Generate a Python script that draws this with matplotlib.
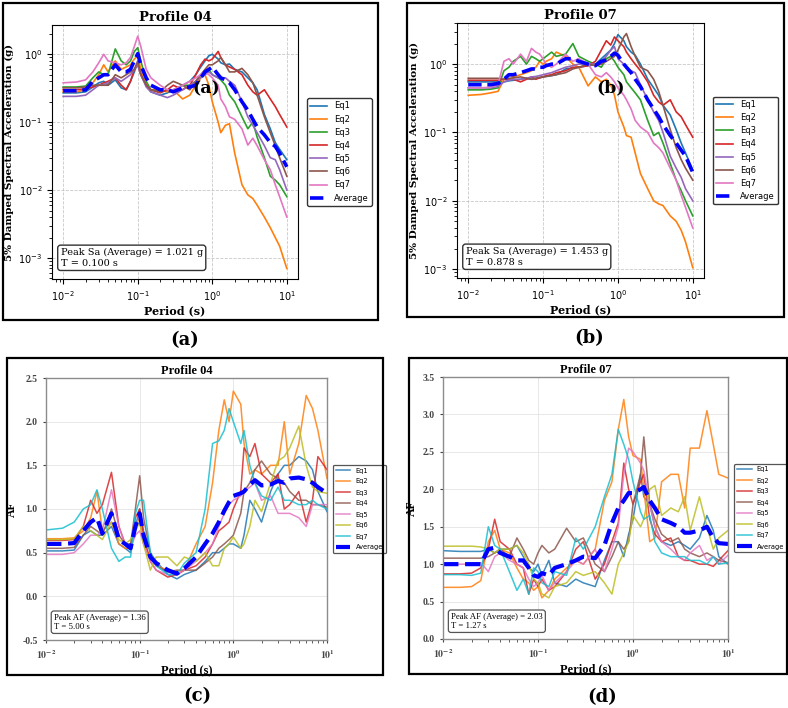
import matplotlib
matplotlib.use("Agg")
import matplotlib.pyplot as plt
from matplotlib.patches import Rectangle

FIG_W, FIG_H = 788, 708

PERIODS = [0.01, 0.015, 0.02, 0.025, 0.03, 0.035, 0.04, 0.05, 0.06, 0.07,
           0.08, 0.09, 0.1, 0.11, 0.13, 0.15, 0.2, 0.25, 0.3, 0.4,
           0.5, 0.6, 0.7, 0.8, 0.9, 1.0, 1.2, 1.3, 1.5, 1.7,
           2.0, 2.5, 3.0, 3.5, 4.0, 5.0, 6.0, 7.0, 8.0, 10.0]

EQ_LABELS = ["Eq1", "Eq2", "Eq3", "Eq4", "Eq5", "Eq6", "Eq7"]
DECADE_TICKS = [0.01, 0.1, 1, 10]
DECADE_LABELS = [r"$\mathbf{10^{-2}}$", r"$\mathbf{10^{-1}}$",
                 r"$\mathbf{10^{0}}$", r"$\mathbf{10^{1}}$"]
AF04_TICKS = [-0.5, 0.0, 0.5, 1.0, 1.5, 2.0, 2.5]
AF07_TICKS = [0.0, 0.5, 1.0, 1.5, 2.0, 2.5, 3.0, 3.5]

# (a) spectral acceleration, profile 04
SA04_EQ1 = [0.27, 0.27, 0.28, 0.33, 0.38, 0.40, 0.35, 0.42, 0.32, 0.30,
            0.40, 0.55, 0.75, 0.55, 0.35, 0.28, 0.25, 0.27, 0.30, 0.35,
            0.40, 0.50, 0.65, 0.80, 0.95, 1.00, 0.85, 0.75, 0.70, 0.72,
            0.60, 0.55, 0.45, 0.38, 0.30, 0.13, 0.08, 0.05, 0.04, 0.028]
SA04_EQ2 = [0.28, 0.28, 0.30, 0.38, 0.50, 0.70, 0.55, 0.80, 0.60, 0.65,
            0.70, 0.85, 0.95, 0.60, 0.35, 0.30, 0.30, 0.28, 0.30, 0.22,
            0.25, 0.35, 0.45, 0.50, 0.35, 0.20, 0.10, 0.07, 0.09, 0.095,
            0.035, 0.012, 0.0085, 0.0075, 0.006, 0.004, 0.0028, 0.002, 0.0015, 0.0007]
SA04_EQ3 = [0.33, 0.33, 0.34, 0.45, 0.55, 0.50, 0.50, 1.20, 0.80, 0.70,
            0.80, 1.10, 1.25, 0.80, 0.40, 0.30, 0.28, 0.30, 0.28, 0.35,
            0.35, 0.40, 0.50, 0.50, 0.60, 0.50, 0.45, 0.42, 0.35, 0.25,
            0.20, 0.12, 0.08, 0.10, 0.06, 0.03, 0.016, 0.014, 0.012, 0.008]
SA04_EQ4 = [0.30, 0.30, 0.31, 0.33, 0.35, 0.38, 0.40, 0.45, 0.35, 0.30,
            0.40, 0.60, 0.70, 0.50, 0.35, 0.30, 0.27, 0.30, 0.35, 0.30,
            0.35, 0.50, 0.70, 0.85, 0.80, 0.85, 1.10, 0.90, 0.70, 0.65,
            0.60, 0.50, 0.35, 0.28, 0.25, 0.30, 0.22, 0.17, 0.13, 0.085]
SA04_EQ5 = [0.24, 0.24, 0.25, 0.30, 0.35, 0.36, 0.38, 0.45, 0.40, 0.45,
            0.50, 0.60, 0.70, 0.50, 0.33, 0.28, 0.25, 0.23, 0.25, 0.30,
            0.35, 0.40, 0.45, 0.50, 0.55, 0.50, 0.45, 0.45, 0.45, 0.40,
            0.35, 0.20, 0.12, 0.09, 0.07, 0.045, 0.03, 0.028, 0.02, 0.01]
SA04_EQ6 = [0.32, 0.32, 0.33, 0.35, 0.35, 0.35, 0.35, 0.50, 0.45, 0.50,
            0.55, 0.60, 0.80, 0.50, 0.35, 0.30, 0.28, 0.35, 0.40, 0.35,
            0.30, 0.40, 0.50, 0.60, 0.70, 0.70, 0.80, 0.90, 0.70, 0.55,
            0.55, 0.62, 0.50, 0.38, 0.25, 0.12, 0.07, 0.045, 0.03, 0.016]
SA04_EQ7 = [0.38, 0.39, 0.42, 0.55, 0.75, 1.00, 0.80, 0.75, 0.70, 0.75,
            0.90, 1.30, 1.85, 1.30, 0.60, 0.45, 0.35, 0.30, 0.30, 0.35,
            0.40, 0.45, 0.50, 0.55, 0.50, 0.45, 0.35, 0.22, 0.17, 0.12,
            0.11, 0.08, 0.046, 0.058, 0.045, 0.028, 0.02, 0.012, 0.008, 0.004]
SA04_AVG = [0.29, 0.29, 0.30, 0.40, 0.45, 0.50, 0.50, 0.70, 0.55, 0.55,
            0.60, 0.80, 1.02, 0.70, 0.45, 0.35, 0.30, 0.30, 0.28, 0.32,
            0.33, 0.35, 0.45, 0.55, 0.60, 0.65, 0.50, 0.45, 0.42, 0.38,
            0.30, 0.20, 0.15, 0.11, 0.085, 0.065, 0.05, 0.044, 0.035, 0.022]

# (b) spectral acceleration, profile 07
SA07_EQ1 = [0.55, 0.55, 0.55, 0.55, 0.55, 0.57, 0.58, 0.60, 0.62, 0.60,
            0.62, 0.63, 0.65, 0.66, 0.68, 0.70, 0.85, 0.88, 0.90, 0.95,
            1.00, 1.20, 1.40, 1.60, 2.00, 2.70, 2.20, 1.80, 1.50, 1.35,
            1.00, 0.60, 0.45, 0.35, 0.25, 0.18, 0.11, 0.07, 0.05, 0.028]
SA07_EQ2 = [0.35, 0.36, 0.38, 0.40, 0.60, 0.70, 0.65, 0.70, 0.75, 0.80,
            0.90, 1.10, 1.00, 1.10, 1.20, 1.50, 1.30, 1.00, 0.90, 0.48,
            0.65, 0.55, 0.60, 0.50, 0.35, 0.20, 0.12, 0.09, 0.085, 0.05,
            0.025, 0.015, 0.010, 0.009, 0.0085, 0.006, 0.005, 0.0037, 0.0025, 0.00105]
SA07_EQ3 = [0.42, 0.42, 0.43, 0.45, 0.80, 0.90, 1.10, 1.30, 1.00, 1.30,
            1.20, 1.10, 1.20, 1.30, 1.50, 1.30, 1.40, 2.00, 1.30, 1.10,
            1.00, 0.90, 1.20, 1.30, 1.10, 0.90, 0.70, 0.55, 0.45, 0.38,
            0.30, 0.15, 0.09, 0.10, 0.07, 0.035, 0.02, 0.014, 0.01, 0.006]
SA07_EQ4 = [0.58, 0.58, 0.58, 0.58, 0.60, 0.60, 0.60, 0.55, 0.60, 0.65,
            0.60, 0.63, 0.65, 0.68, 0.70, 0.75, 0.80, 0.90, 0.90, 0.95,
            1.10, 1.60, 2.20, 1.90, 2.50, 2.20, 1.80, 1.50, 1.20, 1.00,
            0.80, 0.55, 0.35, 0.28, 0.25, 0.30, 0.20, 0.17, 0.13, 0.085]
SA07_EQ5 = [0.45, 0.45, 0.45, 0.47, 0.55, 0.58, 0.60, 0.60, 0.62, 0.65,
            0.66, 0.68, 0.70, 0.72, 0.75, 0.80, 0.90, 0.95, 1.00, 1.00,
            1.00, 1.10, 1.30, 1.60, 1.80, 1.20, 1.00, 0.90, 0.80, 0.75,
            0.50, 0.30, 0.20, 0.15, 0.10, 0.045, 0.03, 0.022, 0.015, 0.01]
SA07_EQ6 = [0.62, 0.62, 0.62, 0.62, 0.60, 0.62, 0.63, 0.65, 0.62, 0.60,
            0.62, 0.64, 0.65, 0.66, 0.68, 0.70, 0.75, 0.85, 0.90, 1.00,
            0.95, 1.00, 1.10, 1.20, 1.30, 1.60, 2.50, 2.80, 1.80, 1.30,
            0.90, 0.80, 0.60, 0.40, 0.25, 0.11, 0.06, 0.04, 0.03, 0.02]
SA07_EQ7 = [0.45, 0.45, 0.46, 0.50, 1.10, 1.20, 1.00, 1.40, 1.10, 1.70,
            1.50, 1.40, 1.20, 1.00, 0.90, 1.00, 1.40, 1.10, 1.20, 1.00,
            0.70, 0.65, 0.75, 0.65, 0.55, 0.45, 0.35, 0.30, 0.22, 0.15,
            0.12, 0.10, 0.07, 0.06, 0.05, 0.03, 0.02, 0.012, 0.008, 0.004]
SA07_AVG = [0.50, 0.50, 0.50, 0.52, 0.60, 0.70, 0.70, 0.75, 0.80, 0.85,
            0.85, 0.90, 0.90, 0.95, 1.00, 1.00, 1.20, 1.20, 1.10, 1.00,
            0.95, 1.10, 1.15, 1.30, 1.45, 1.35, 1.00, 0.90, 0.75, 0.60,
            0.47, 0.30, 0.22, 0.17, 0.13, 0.09, 0.07, 0.055, 0.045, 0.026]

# (c) amplification factor, profile 04
AF04_EQ1 = [0.52, 0.52, 0.53, 0.70, 0.75, 0.70, 0.70, 0.80, 0.60, 0.55,
            0.50, 0.80, 1.00, 0.75, 0.50, 0.40, 0.25, 0.20, 0.25, 0.30,
            0.40, 0.50, 0.50, 0.55, 0.60, 0.60, 0.55, 0.70, 1.10, 1.00,
            0.85, 1.20, 1.40, 1.50, 1.50, 1.60, 1.55, 1.45, 1.20, 0.97]
AF04_EQ2 = [0.66, 0.66, 0.67, 0.75, 0.90, 1.20, 0.75, 0.85, 0.60, 0.55,
            0.55, 0.80, 0.90, 0.60, 0.45, 0.35, 0.30, 0.25, 0.30, 0.60,
            0.80, 1.30, 1.90, 2.25, 2.00, 2.35, 2.20, 1.75, 1.40, 1.45,
            1.40, 1.50, 1.50, 2.00, 1.40, 1.75, 2.30, 2.15, 1.90, 1.35]
AF04_EQ3 = [0.64, 0.64, 0.65, 0.80, 1.10, 0.95, 1.05, 1.42, 0.80, 0.60,
            0.55, 0.90, 1.00, 0.70, 0.40, 0.30, 0.22, 0.25, 0.30, 0.35,
            0.45, 0.60, 0.75, 0.80, 0.85, 1.00, 1.20, 1.70, 1.60, 1.75,
            1.40, 1.30, 1.40, 1.00, 1.05, 1.20, 0.85, 1.10, 1.60, 1.45]
AF04_EQ4 = [0.55, 0.55, 0.56, 0.70, 0.80, 0.75, 0.70, 1.00, 0.70, 0.60,
            0.60, 1.00, 1.38, 0.90, 0.50, 0.35, 0.28, 0.30, 0.30, 0.30,
            0.38, 0.45, 0.55, 0.60, 0.65, 0.70, 0.95, 1.20, 1.30, 1.45,
            1.55, 1.40, 1.35, 1.30, 1.20, 1.10, 1.10, 1.05, 1.05, 1.02]
AF04_EQ5 = [0.48, 0.48, 0.50, 0.60, 0.70, 0.70, 0.75, 1.22, 0.80, 0.60,
            0.55, 0.70, 0.75, 0.60, 0.40, 0.30, 0.25, 0.25, 0.30, 0.40,
            0.50, 0.60, 0.80, 0.95, 1.05, 1.10, 1.15, 1.20, 1.25, 1.30,
            1.10, 1.15, 0.95, 0.95, 0.95, 0.90, 0.80, 1.05, 1.05, 1.05]
AF04_EQ6 = [0.65, 0.65, 0.66, 0.80, 0.75, 0.70, 0.65, 0.85, 0.65, 0.60,
            0.65, 0.75, 0.85, 0.60, 0.30, 0.45, 0.45, 0.35, 0.45, 0.40,
            0.50, 0.35, 0.35, 0.55, 0.60, 0.68, 0.55, 0.60, 0.80, 1.10,
            0.97, 1.30, 1.55, 1.60, 1.70, 1.95, 1.50, 1.25, 1.20, 1.18]
AF04_EQ7 = [0.76, 0.78, 0.85, 1.00, 1.05, 1.22, 1.00, 0.55, 0.40, 0.45,
            0.45, 0.95, 1.10, 1.10, 0.50, 0.35, 0.25, 0.25, 0.38, 0.50,
            1.00, 1.75, 1.78, 1.90, 2.15, 2.00, 1.75, 1.90, 1.50, 1.30,
            1.15, 1.10, 1.25, 1.10, 1.10, 1.05, 1.05, 1.10, 1.05, 1.00]
AF04_AVG = [0.60, 0.60, 0.61, 0.75, 0.85, 0.90, 0.72, 0.95, 0.65, 0.60,
            0.55, 0.80, 0.95, 0.70, 0.45, 0.38, 0.30, 0.26, 0.32, 0.45,
            0.60, 0.72, 0.85, 0.98, 1.08, 1.15, 1.18, 1.20, 1.28, 1.33,
            1.27, 1.28, 1.32, 1.30, 1.35, 1.36, 1.34, 1.30, 1.25, 1.18]

# (d) amplification factor, profile 07
AF07_EQ1 = [1.18, 1.17, 1.17, 1.17, 1.20, 1.15, 1.20, 1.20, 1.25, 1.10,
            0.95, 0.90, 1.00, 0.85, 1.05, 0.75, 0.70, 0.80, 0.75, 0.70,
            1.05, 1.30, 1.30, 1.10, 1.40, 1.60, 2.20, 1.90, 1.80, 1.50,
            1.30, 1.25, 1.30, 1.25, 1.20, 1.35, 1.65, 1.45, 1.10, 1.00]
AF07_EQ2 = [0.69, 0.69, 0.70, 0.78, 1.30, 1.45, 1.20, 1.15, 0.95, 0.80,
            0.75, 0.65, 0.70, 0.55, 0.65, 0.80, 0.95, 1.05, 1.00, 1.20,
            1.85, 2.10, 2.80, 3.20, 2.70, 2.45, 2.40, 2.00, 1.30, 1.35,
            2.10, 2.20, 2.20, 1.75, 2.55, 2.55, 3.05, 2.60, 2.20, 2.15]
AF07_EQ3 = [0.87, 0.87, 0.88, 0.95, 1.20, 1.60, 1.30, 1.20, 1.00, 0.95,
            0.60, 0.80, 0.70, 0.80, 0.65, 0.70, 0.90, 1.20, 1.30, 0.80,
            1.00, 1.30, 1.55, 2.35, 2.00, 1.80, 2.10, 2.20, 1.60, 1.40,
            1.30, 1.35, 1.10, 1.05, 1.05, 1.00, 1.00, 0.97, 1.05, 1.18]
AF07_EQ4 = [1.08, 1.08, 1.08, 1.08, 1.10, 1.15, 1.20, 1.10, 1.35, 1.20,
            1.05, 1.00, 1.15, 1.25, 1.15, 1.20, 1.48, 1.30, 1.35, 1.00,
            0.90, 1.10, 1.30, 1.20, 1.30, 1.80, 2.20, 2.70, 1.80, 1.60,
            1.40, 1.30, 1.35, 1.20, 1.15, 1.10, 1.15, 1.10, 1.05, 1.02]
AF07_EQ5 = [1.00, 1.00, 1.00, 1.02, 0.90, 1.10, 1.15, 1.05, 1.00, 0.95,
            0.80, 0.70, 0.75, 0.85, 0.65, 0.75, 0.90, 1.05, 1.00, 1.20,
            0.90, 1.20, 1.50, 2.20, 2.55, 2.50, 2.35, 2.25, 1.80, 1.50,
            1.30, 1.20, 1.10, 1.05, 1.15, 1.25, 1.05, 1.10, 1.00, 1.12]
AF07_EQ6 = [1.24, 1.24, 1.24, 1.23, 1.20, 1.15, 1.20, 1.20, 1.25, 1.15,
            1.00, 0.80, 0.75, 0.60, 0.55, 0.70, 0.75, 0.90, 0.85, 0.90,
            0.75, 0.60, 1.00, 1.15, 1.30, 1.65, 1.50, 1.60, 2.00, 2.05,
            1.65, 1.75, 1.70, 1.90, 1.45, 1.90, 1.50, 1.20, 1.35, 1.45]
AF07_EQ7 = [0.86, 0.86, 0.85, 0.88, 1.50, 1.25, 1.20, 0.90, 0.65, 0.80,
            0.60, 0.95, 0.90, 0.75, 0.70, 0.90, 0.85, 1.35, 1.20, 1.50,
            1.90, 2.20, 2.80, 2.60, 2.40, 2.10, 1.70, 1.60, 1.65, 1.30,
            1.15, 1.10, 1.10, 1.10, 1.05, 1.05, 1.00, 1.10, 1.00, 1.02]
AF07_AVG = [1.00, 1.00, 1.00, 1.00, 1.20, 1.22, 1.15, 1.10, 1.05, 1.05,
            0.95, 0.85, 0.83, 0.88, 0.85, 0.95, 1.00, 1.05, 1.10, 1.08,
            1.25, 1.55, 1.75, 1.85, 1.95, 1.95, 2.00, 2.03, 1.85, 1.75,
            1.60, 1.55, 1.50, 1.42, 1.42, 1.45, 1.50, 1.35, 1.28, 1.27]

SA_COLORS = ["tab:blue", "tab:orange", "tab:green", "tab:red",
             "tab:purple", "tab:brown", "tab:pink"]
AF_COLORS = ["tab:blue", "tab:orange", "tab:red", "tab:brown",
             "tab:pink", "tab:olive", "tab:cyan"]

SERIF_A = "DejaVu Serif"
SERIF_C = "Liberation Serif"


def px_axes(fig, left, top, right, bottom):
    return fig.add_axes([left / FIG_W, 1 - bottom / FIG_H,
                         (right - left) / FIG_W, (bottom - top) / FIG_H])


def px_frame(fig, left, top, right, bottom):
    fig.add_artist(Rectangle((left / FIG_W, 1 - bottom / FIG_H),
                             (right - left) / FIG_W, (bottom - top) / FIG_H,
                             transform=fig.transFigure, fill=False,
                             edgecolor="black", linewidth=1.6))


def draw_sa(ax, curves, average, title, peak_text, tag, tag_xy, ylim):
    for values, color, label in zip(curves, SA_COLORS, EQ_LABELS):
        ax.plot(PERIODS, values, color=color, lw=1.2, label=label)
    ax.plot(PERIODS, average, color="blue", lw=2.6, ls="--", label="Average")
    ax.set_xscale("log")
    ax.set_yscale("log")
    ax.set_ylim(*ylim)
    ax.grid(True, which="major", ls="--", color="#bbbbbb", lw=0.6, alpha=0.8)
    ax.tick_params(labelsize=7)
    ax.set_title(title, fontsize=9.5, fontweight="bold", family=SERIF_A, pad=3)
    ax.set_xlabel("Period (s)", fontsize=8, fontweight="bold", family=SERIF_A, labelpad=2)
    ax.set_ylabel("5% Damped Spectral Acceleration (g)", fontsize=7.5,
                  fontweight="bold", family=SERIF_A, labelpad=3)
    ax.text(0.035, 0.045, peak_text, transform=ax.transAxes, fontsize=7,
            family=SERIF_A, va="bottom", ha="left",
            bbox=dict(boxstyle="round,pad=0.3", fc="white", ec="#333333", lw=1.0))
    ax.text(tag_xy[0], tag_xy[1], tag, fontsize=12.5, fontweight="bold",
            family=SERIF_A, ha="center", va="center")
    leg = ax.legend(loc="center left", bbox_to_anchor=(1.02, 0.5), fontsize=6,
                    frameon=True, fancybox=True, framealpha=1)
    leg.get_frame().set_edgecolor("#333333")
    leg.get_frame().set_linewidth(1.0)


def draw_af(ax, curves, average, title, peak_text, yticks):
    for values, color, label in zip(curves, AF_COLORS, EQ_LABELS):
        ax.plot(PERIODS, values, color=color, lw=1.1, alpha=0.85, label=label)
    ax.plot(PERIODS, average, color="blue", lw=3.0, ls="--", label="Average")
    ax.set_xscale("log")
    ax.set_xlim(0.01, 10)
    ax.set_ylim(yticks[0], yticks[-1])
    ax.set_xticks(DECADE_TICKS, labels=DECADE_LABELS, math_fontfamily="stix")
    ax.set_yticks(yticks, labels=[f"{v:.1f}" for v in yticks])
    for lbl in ax.get_xticklabels() + ax.get_yticklabels():
        lbl.set_fontfamily(SERIF_C)
        lbl.set_fontweight("bold")
        lbl.set_fontsize(7)
    ax.grid(True, which="major", ls="-", color="#e4e4e4", lw=0.6)
    for spine in ax.spines.values():
        spine.set_color("#8c8c8c")
        spine.set_linewidth(1.0)
    ax.tick_params(which="both", colors="#444444", length=2.5)
    ax.set_title(title, fontsize=9, fontweight="bold", family=SERIF_C, pad=3)
    ax.set_xlabel("Period (s)", fontsize=9, fontweight="bold", family=SERIF_C, labelpad=2)
    ax.set_ylabel("AF", fontsize=8.5, fontweight="bold", family=SERIF_C, labelpad=3)
    ax.text(0.028, 0.035, peak_text, transform=ax.transAxes, fontsize=6.3,
            family=SERIF_C, va="bottom", ha="left",
            bbox=dict(boxstyle="round,pad=0.3", fc="white", ec="#555555", lw=0.9))
    leg = ax.legend(loc="center left", bbox_to_anchor=(1.01, 0.5), fontsize=4.8,
                    labelspacing=0.75, frameon=True, fancybox=True, framealpha=1,
                    handlelength=2.2)
    leg.get_frame().set_edgecolor("#555555")
    leg.get_frame().set_linewidth(0.9)


def main() -> None:
    fig = plt.figure(figsize=(FIG_W / 100, FIG_H / 100), dpi=100)

    px_frame(fig, 3, 3, 378, 320)
    px_frame(fig, 407, 3, 784, 317)
    px_frame(fig, 7, 358, 383, 675)
    px_frame(fig, 409, 358, 787, 674)

    ax_a = px_axes(fig, 52, 25, 298, 279)
    draw_sa(ax_a,
            [SA04_EQ1, SA04_EQ2, SA04_EQ3, SA04_EQ4, SA04_EQ5, SA04_EQ6, SA04_EQ7],
            SA04_AVG, "Profile 04", "Peak Sa (Average) = 1.021 g\nT = 0.100 s",
            "(a)", (0.82, 0.31), (4.9e-4, 2.7))

    ax_b = px_axes(fig, 457, 23, 704, 278)
    draw_sa(ax_b,
            [SA07_EQ1, SA07_EQ2, SA07_EQ3, SA07_EQ4, SA07_EQ5, SA07_EQ6, SA07_EQ7],
            SA07_AVG, "Profile 07", "Peak Sa (Average) = 1.453 g\nT = 0.878 s",
            "(b)", (0.80, 0.45), (7.4e-4, 4.0))

    ax_c = px_axes(fig, 46, 378, 327, 640)
    draw_af(ax_c,
            [AF04_EQ1, AF04_EQ2, AF04_EQ3, AF04_EQ4, AF04_EQ5, AF04_EQ6, AF04_EQ7],
            AF04_AVG, "Profile 04", "Peak AF (Average) = 1.36\nT = 5.00 s",
            AF04_TICKS)

    ax_d = px_axes(fig, 443, 377, 728, 639)
    draw_af(ax_d,
            [AF07_EQ1, AF07_EQ2, AF07_EQ3, AF07_EQ4, AF07_EQ5, AF07_EQ6, AF07_EQ7],
            AF07_AVG, "Profile 07", "Peak AF (Average) = 2.03\nT = 1.27 s",
            AF07_TICKS)

    for label, x, y in [("(a)", 185, 340), ("(b)", 589, 338),
                        ("(c)", 197, 696), ("(d)", 602, 697)]:
        fig.text(x / FIG_W, 1 - y / FIG_H, label, fontsize=13, fontweight="bold",
                 family=SERIF_A, ha="center", va="center")

    fig.savefig("out.png", dpi=100)
    plt.close(fig)


if __name__ == "__main__":
    main()
